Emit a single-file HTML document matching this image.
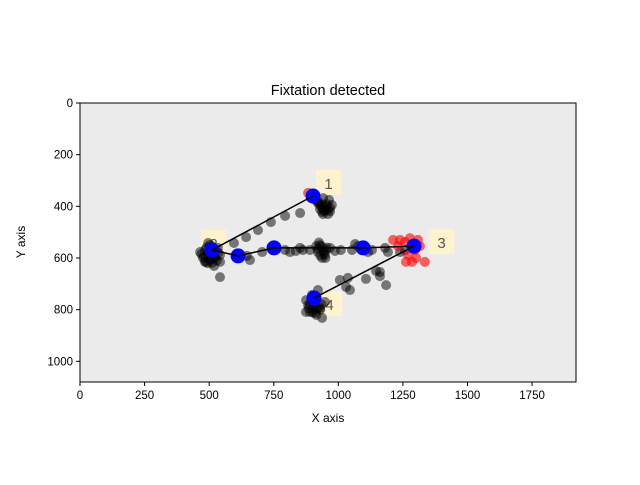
<!DOCTYPE html>
<html><head><meta charset="utf-8"><style>
body{margin:0;background:#fff}
svg text{font-family:"Liberation Sans","DejaVu Sans",sans-serif}
</style></head><body>
<svg id="chart" width="640" height="480" viewBox="0 0 640 480">
<rect width="640" height="480" fill="#fff"/>
<rect x="80" y="103" width="496" height="279" fill="#ebebeb" stroke="#000" stroke-width="1"/>
<g id="labels"></g>
<g id="marks"></g>
<g id="axes"></g>
<text x="328" y="95" text-anchor="middle" font-size="14.5">Fixtation detected</text>
<text x="328" y="422" text-anchor="middle" font-size="12">X axis</text>
<text x="25" y="242" text-anchor="middle" font-size="12" transform="rotate(-90 25 242)">Y axis</text>
</svg>
<script>
const blackX=[910,929,937,948,937,960,968,921,975,964,941,852,794,739,689,643,596,484,496,503,511,484,523,542,534,503,496,465,519,542,476,542,646,705,658,794,813,836,852,863,890,914,929,921,937,948,952,968,987,1010,1053,1065,1076,1115,1130,1181,1192,1239,1258,1006,1030,1037,1107,1161,1146,1185,1161,1045,883,875,890,910,929,948,898,921,875,937,910,
921,937,952,960,945,929,956,968,941,
490,500,515,480,505,525,520,495,535,470,510,530,487,
925,935,945,930,950,920,940,955,
890,905,920,900,915,930,885,935,910,895];
const blackY=[375,395,403,414,422,430,406,387,395,375,368,426,437,461,492,519,542,569,588,608,619,615,600,588,561,550,542,577,631,615,600,674,592,577,608,569,577,573,561,569,569,554,550,577,600,588,569,561,573,569,569,546,554,577,569,561,577,577,569,685,712,677,681,670,650,705,654,724,782,763,809,801,794,770,743,724,809,832,813,
380,392,400,414,418,410,392,420,430,
560,575,585,595,605,570,595,620,580,585,555,610,615,
540,555,580,590,600,565,570,560,
780,790,795,810,820,800,795,780,770,760];
const redX=[883,894,1212,1239,1258,1277,1308,1316,1297,1270,1285,1301,1262,1335,1231];
const redY=[348,368,530,530,538,523,530,554,569,588,615,600,615,615,554];
const fixX=[902,511,612,751,1096,1293,906];
const fixY=[360,569,592,561,561,554,755];
const labelText=["1","2","3","4"];
const labelFix=[0,1,5,6];
const xTicks=[0,250,500,750,1000,1250,1500,1750];
const yTicks=[0,200,400,600,800,1000];
const NS="http://www.w3.org/2000/svg";
const S=496/1920;
function sx(v){return 80+v*S;}
function sy(v){return 103+v*(279/1080);}
const marks=document.getElementById('marks');
const labels=document.getElementById('labels');
const axes=document.getElementById('axes');
function mk(tag,attrs,parent){const e=document.createElementNS(NS,tag);for(const k in attrs)e.setAttribute(k,attrs[k]);parent.appendChild(e);return e;}
const offX=[3,-11,15,3], offY=[-26,-20,-17,-7];
for(let i=0;i<labelText.length;i++){
 const f=labelFix[i];const x=sx(fixX[f])+offX[i],y=sy(fixY[f])+offY[i];
 const g=mk('g',{},labels);
 
 
 mk('rect',{x:x,y:y,width:25,height:25,fill:'#fff2cc'},g);
 const t=mk('text',{x:x+12.5,y:y+19,'text-anchor':'middle','font-size':15,fill:'#555'},g);
 t.textContent=labelText[i];
}
for(let i=0;i<blackX.length;i++){
 const c=mk('circle',{cx:sx(blackX[i]),cy:sy(blackY[i]),r:5,fill:'#000','fill-opacity':0.5},marks);
 
 
}
for(let i=0;i<redX.length;i++){
 const c=mk('circle',{cx:sx(redX[i]),cy:sy(redY[i]),r:5,fill:'#f00','fill-opacity':0.6},marks);
 
 
}
let pts=fixX.map((x,i)=>sx(x)+','+sy(fixY[i])).join(' ');
for(let i=0;i<fixX.length;i++){
 const c=mk('circle',{cx:sx(fixX[i]),cy:sy(fixY[i]),r:7.5,fill:'#0000ff'},marks);
 
 
}
const pl=mk('polyline',{points:pts,fill:'none',stroke:'#000','stroke-width':1.5},marks);


xTicks.forEach(v=>{
 const x=sx(v);
 mk('line',{x1:x,x2:x,y1:382,y2:386,stroke:'#000'},axes);
 const t=mk('text',{x:x,y:399,'text-anchor':'middle','font-size':11.5},axes);
 t.textContent=v;
 
 
});
yTicks.forEach(v=>{
 const y=sy(v);
 mk('line',{x1:76,x2:80,y1:y,y2:y,stroke:'#000'},axes);
 const t=mk('text',{x:73,y:y+4,'text-anchor':'end','font-size':11.5},axes);
 t.textContent=v;
 
 
});
</script>
</body></html>
